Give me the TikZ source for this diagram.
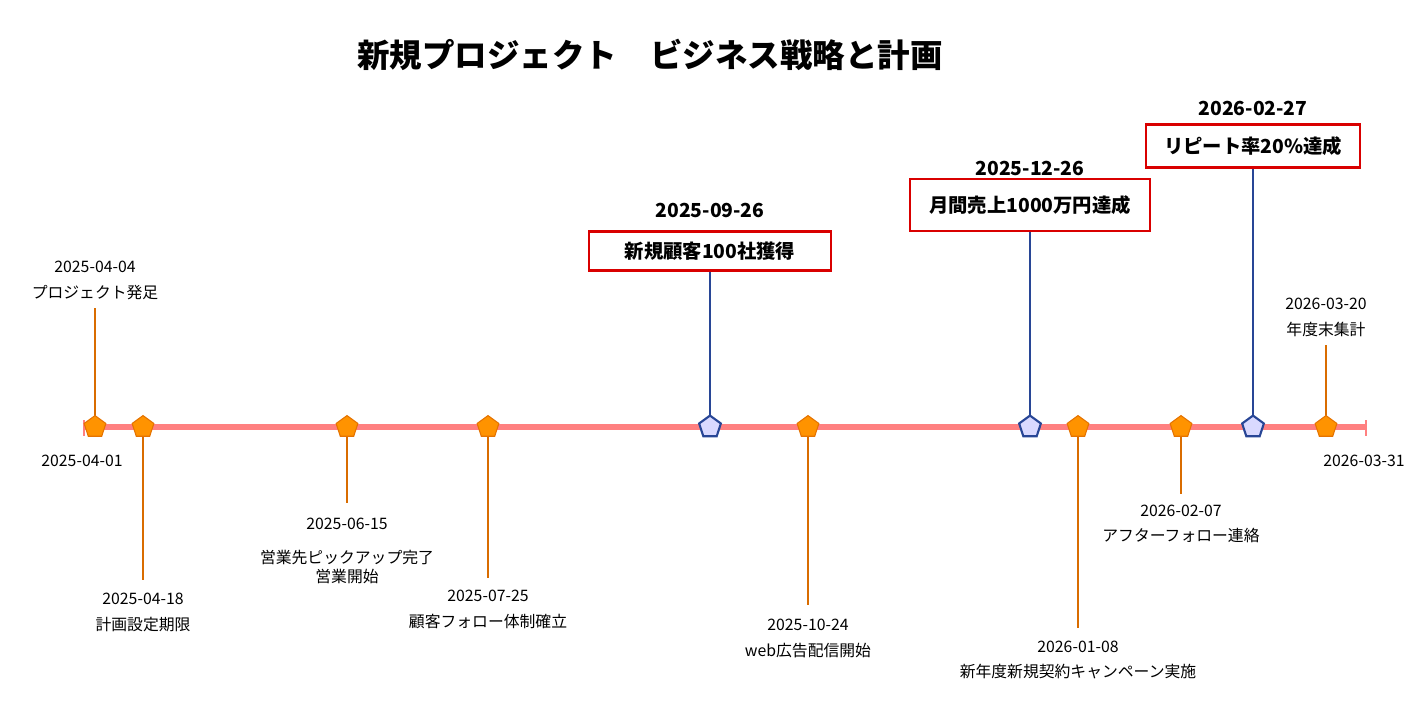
\documentclass[tikz,border=0pt]{standalone}
\usepackage{fontspec}
\setmainfont{Noto Sans CJK JP}
\usetikzlibrary{shapes.geometric}

\definecolor{mileblue}{RGB}{40,70,150}
\begin{document}
\begin{tikzpicture}[x=0.02cm, y=-0.02cm,
        % styles
        eventmark/.style = {
                regular polygon, regular polygon sides=5, inner sep=0pt,
                minimum size=13pt, fill=orange!85!yellow, draw=orange!90!black, line width=0.6pt
            },
        milemark/.style = {
                regular polygon, regular polygon sides=5, inner sep=0pt,
                minimum size=13pt, fill=blue!15, draw=mileblue, line width=1.2pt
            },
        eventstem/.style = {orange!85!black, line width=0.8pt},
        milestem/.style = {mileblue, line width=1.4pt},
        datetext/.style = {font=\fontsize{9}{11}\selectfont},
        eventtext/.style = {font=\fontsize{9}{11}\selectfont, align=center},
        miledate/.style = {font=\bfseries\fontsize{11}{13}\selectfont},
        milebox/.style = {draw=red!85!black, line width=1.6pt, font=\bfseries\fontsize{11}{13}\selectfont,
                inner sep=0pt}
    ]
    \useasboundingbox (0,0) rectangle (1421,717);

    \node (title) [font=\bfseries\fontsize{18.5}{22}\selectfont] at (650,55) {新規プロジェクト\quad ビジネス戦略と計画};

    % axis
    \coordinate (start) at (84,427);
    \coordinate (end) at (1366,427);
    \draw [red!50, line width=3.4pt] (start) -- (end);
    \draw [red!50, line width=1pt] (84,420) -- (84,436) (1366,420) -- (1366,436);
    \node (startdate) [datetext] at (82,461) {2025-04-01};
    \node (enddate) [datetext] at (1364,461) {2026-03-31};

    % events: x / stem end / date y / text y / date / text
    \foreach \x/\s/\d/\t/\dt/\tx [count=\i] in {
            95/308/267/293/2025-04-04/プロジェクト発足,
            143/580/599/625/2025-04-18/計画設定期限,
            347/503/524/567/2025-06-15/{営業先ピックアップ完了\\営業開始},
            488/578/596/621/2025-07-25/顧客フォロー体制確立,
            808/605/625/651/2025-10-24/web広告配信開始,
            1078/628/647/672/2026-01-08/新年度新規契約キャンペーン実施,
            1181/494/511/536/2026-02-07/アフターフォロー連絡,
            1326/345/304/329/2026-03-20/年度末集計} {
        \coordinate (ev\i) at (\x,427);
        \coordinate (evend\i) at (\x,\s);
        \draw [eventstem] (ev\i) -- (evend\i);
        \node (evdate\i) [datetext] at (\x,\d) {\dt};
        \node (evtext\i) [eventtext] at (\x,\t) {\tx};
        \node (evmark\i) [eventmark] at (ev\i) {};
    }

    % milestones: x / box y / width / height / date y / date / text
    \foreach \x/\b/\w/\h/\d/\dt/\tx [count=\i] in {
            710/251/242/39/210/2025-09-26/新規顧客100社獲得,
            1030/205/240/52/168/2025-12-26/月間売上1000万円達成,
            1253/146/214/43/108/2026-02-27/リピート率20\%達成} {
        \coordinate (ms\i) at (\x,427);
        \node (msbox\i) [milebox, minimum width=\w*0.02cm, minimum height=\h*0.02cm] at (\x,\b) {\tx};
        \node (msdate\i) [miledate] at (\x,\d) {\dt};
        \draw [milestem] (msbox\i) -- (ms\i);
        \node (msmark\i) [milemark] at (ms\i) {};
    }
\end{tikzpicture}
\end{document}
